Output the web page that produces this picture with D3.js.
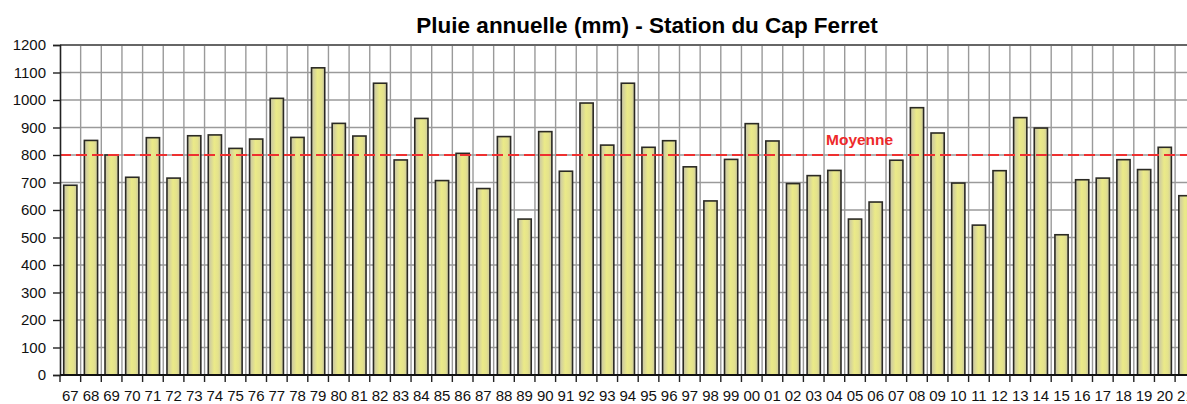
<!DOCTYPE html>
<html>
<head>
<meta charset="utf-8">
<script src="https://cdn.jsdelivr.net/npm/d3@7"></script>
<style>
  html, body { margin: 0; padding: 0; background: #fff; overflow: hidden; }
  svg { display: block; font-family: "Liberation Sans", Arial, sans-serif; }
</style>
</head>
<body>
<svg id="chart" width="1187" height="404"></svg>
<script>
const years = ["67","68","69","70","71","72","73","74","75","76","77","78","79","80","81","82","83","84","85","86","87","88","89","90","91","92","93","94","95","96","97","98","99","00","01","02","03","04","05","06","07","08","09","10","11","12","13","14","15","16","17","18","19","20","21"];
const rain = [690,853,800,719,863,716,870,873,824,858,1006,864,1117,915,869,1061,782,933,707,806,678,867,567,885,741,989,836,1061,828,852,757,633,784,914,851,696,725,744,567,629,781,972,880,698,545,743,936,898,510,710,716,783,747,828,652];
const yTicks = [0,100,200,300,400,500,600,700,800,900,1000,1100,1200];
const meanValue = 800;
const meanLabel = "Moyenne";
const title = "Pluie annuelle (mm) - Station du Cap Ferret";

const svg = d3.select("#chart");
const mLeft = 60, mTop = 45, mBottom = 375, step = 20.65;
const mRight = mLeft + step * years.length;

const x = d3.scaleBand().domain(years).range([mLeft, mRight]).paddingInner(0.36).paddingOuter(0.18);
const y = d3.scaleLinear().domain([0, 1200]).range([mBottom, mTop]);

const defs = svg.append("defs");
const grad = defs.append("linearGradient").attr("id", "barGrad").attr("x1", "0").attr("x2", "1").attr("y1", "0").attr("y2", "0");
grad.append("stop").attr("offset", "0%").attr("stop-color", "#c6c3a8");
grad.append("stop").attr("offset", "45%").attr("stop-color", "#ebea88");
grad.append("stop").attr("offset", "75%").attr("stop-color", "#e4e28c");
grad.append("stop").attr("offset", "100%").attr("stop-color", "#cac7a2");

// grid
const bounds = d3.range(years.length + 1).map(i => mLeft + i * step);
svg.append("g").selectAll("line").data(bounds.slice(1)).join("line")
  .attr("x1", d => d).attr("x2", d => d).attr("y1", mTop).attr("y2", mBottom)
  .attr("stroke", "#9a9a9a").attr("stroke-width", 1.4);
svg.append("g").selectAll("line").data(yTicks.slice(1)).join("line")
  .attr("x1", mLeft).attr("x2", 1187).attr("y1", d => y(d)).attr("y2", d => y(d))
  .attr("stroke", "#9a9a9a").attr("stroke-width", 1.4);

// top border
svg.append("line").attr("x1", mLeft).attr("x2", 1187).attr("y1", y(1200)).attr("y2", y(1200))
  .attr("stroke", "#666").attr("stroke-width", 2);

// bars
svg.append("g").selectAll("rect").data(years).join("rect")
  .attr("x", d => x(d))
  .attr("y", (d, i) => y(rain[i]))
  .attr("width", x.bandwidth())
  .attr("height", (d, i) => mBottom - y(rain[i]))
  .attr("fill", "url(#barGrad)")
  .attr("stroke", "#2b2a24").attr("stroke-width", 1.6);

// mean line
svg.append("line").attr("x1", mLeft).attr("x2", 1187).attr("y1", y(meanValue)).attr("y2", y(meanValue))
  .attr("stroke", "#ee3030").attr("stroke-width", 2).attr("stroke-dasharray", "11,5");
svg.append("text").attr("x", 826).attr("y", y(meanValue) - 10)
  .attr("fill", "#ee2a2a").attr("font-weight", "bold").attr("font-size", 15.5).text(meanLabel);

// y axis
const yAxis = svg.append("g").attr("transform", `translate(${mLeft},0)`)
  .call(d3.axisLeft(y).tickValues(yTicks).tickSize(7).tickPadding(7).tickFormat(d3.format("d")));
yAxis.select(".domain").attr("stroke", "#222").attr("stroke-width", 1.6);
yAxis.selectAll(".tick line").attr("stroke", "#222").attr("stroke-width", 1.4);
yAxis.selectAll(".tick text").attr("font-size", 15).attr("fill", "#111").attr("font-family", "Liberation Sans, Arial, sans-serif");

// x axis
const xAxis = svg.append("g").attr("transform", `translate(0,${mBottom})`)
  .call(d3.axisBottom(x).tickSize(0).tickPadding(15));
xAxis.select(".domain").remove();
xAxis.selectAll(".tick text").attr("font-size", 15).attr("fill", "#111").attr("font-family", "Liberation Sans, Arial, sans-serif");
svg.append("line").attr("x1", mLeft).attr("x2", 1187).attr("y1", mBottom).attr("y2", mBottom)
  .attr("stroke", "#111").attr("stroke-width", 1.8);
svg.append("g").selectAll("line").data(bounds).join("line")
  .attr("x1", d => d).attr("x2", d => d).attr("y1", mBottom).attr("y2", mBottom + 7)
  .attr("stroke", "#222").attr("stroke-width", 1.4);

// title
svg.append("text").attr("x", 647).attr("y", 33).attr("text-anchor", "middle")
  .attr("font-weight", "bold").attr("font-size", 22.5).attr("fill", "#000").text(title);
</script>
</body>
</html>
